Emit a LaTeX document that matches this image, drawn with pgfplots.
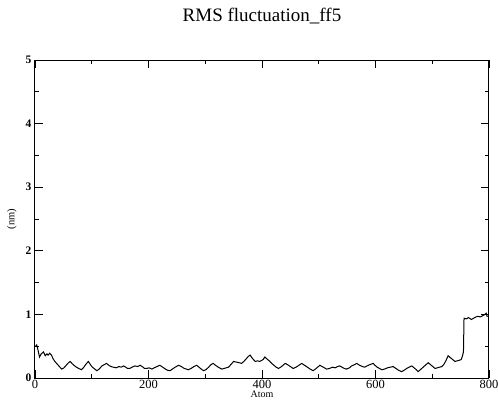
\documentclass[border=0pt]{standalone}
\usepackage{fontspec}
\setmainfont{Liberation Serif}
\usepackage{pgfplots}
\pgfplotsset{compat=1.18}
\begin{document}
\begin{tikzpicture}
\useasboundingbox (-35pt,-24pt) rectangle (463pt,378pt);
\begin{axis}[
  at={(0pt,0pt)}, anchor=south west,
  scale only axis, width=454pt, height=318pt,
  xmin=0, xmax=800, ymin=0, ymax=5,
  xtick={0,200,400,600,800}, minor x tick num=1,
  ytick={0,1,2,3,4,5}, minor y tick num=1,
  tick align=inside,
  major tick length=8pt, minor tick length=4pt,
  every tick/.style={black, line width=0.9pt},
  axis line style={line width=1pt},
  /pgf/number format/assume math mode=true,
  xticklabel style={font=\fontsize{12.5}{13}\selectfont, yshift=1pt},
  yticklabel style={font=\bfseries\fontsize{11.5}{12}\selectfont},
  title={RMS fluctuation\_ff5},
  title style={font=\fontsize{19}{21}\selectfont, at={(axis description cs:0.5,1)}, anchor=center, yshift=38pt},
  xlabel={Atom},
  xlabel style={font=\fontsize{10}{12}\selectfont, at={(axis description cs:0.5,0)}, anchor=south, yshift=-23.5pt},
  ylabel={(nm)},
  ylabel style={font=\fontsize{10.5}{12}\selectfont, at={(axis description cs:-0.051,0.5)}, anchor=center, rotate=0},
]
\addplot[black, line width=1pt, mark=none] coordinates {
(1,0.50)(3,0.52)(5,0.45)(8,0.33)(11,0.38)(15,0.41)(18,0.35)(21,0.38)(23,0.36)(26,0.39)
(29,0.36)(32,0.30)(35,0.26)(39,0.22)(43,0.18)(47,0.14)(51,0.16)(55,0.20)(59,0.24)(62,0.26)
(66,0.22)(70,0.19)(73,0.17)(77,0.15)(82,0.13)(86,0.17)(90,0.22)(94,0.26)(97,0.22)(100,0.18)
(104,0.15)(109,0.115)(113,0.14)(118,0.19)(122,0.21)(126,0.23)(130,0.20)(134,0.18)(138,0.17)(143,0.16)
(148,0.18)(152,0.17)(156,0.19)(160,0.17)(163,0.15)(167,0.15)(171,0.17)(176,0.19)(181,0.18)(185,0.20)
(189,0.18)(193,0.15)(197,0.15)(201,0.16)(206,0.14)(210,0.16)(215,0.18)(220,0.20)(225,0.17)(230,0.14)
(234,0.12)(238,0.115)(242,0.14)(247,0.17)(253,0.20)(258,0.18)(263,0.15)(267,0.14)(270,0.13)(275,0.15)
(280,0.18)(285,0.20)(289,0.17)(293,0.14)(297,0.115)(301,0.13)(306,0.17)(310,0.21)(314,0.23)(318,0.20)
(323,0.17)(329,0.14)(333,0.15)(337,0.16)(341,0.17)(346,0.22)(350,0.26)(355,0.25)(360,0.24)(364,0.23)
(368,0.26)(372,0.30)(376,0.34)(379,0.36)(383,0.31)(388,0.26)(392,0.27)(396,0.26)(402,0.29)(405,0.33)
(410,0.29)(414,0.26)(417,0.23)(421,0.20)(425,0.17)(429,0.15)(433,0.17)(437,0.20)(441,0.23)(445,0.21)
(450,0.18)(455,0.15)(460,0.17)(465,0.20)(470,0.23)(475,0.20)(480,0.17)(485,0.14)(490,0.115)(494,0.14)
(498,0.17)(502,0.20)(506,0.18)(510,0.16)(514,0.14)(519,0.15)(524,0.17)(529,0.16)(533,0.18)(537,0.19)
(541,0.17)(545,0.15)(549,0.14)(554,0.16)(558,0.19)(563,0.21)(567,0.23)(572,0.20)(577,0.18)(581,0.17)
(585,0.19)(590,0.21)(596,0.23)(599,0.20)(603,0.17)(607,0.15)(611,0.13)(616,0.14)(621,0.16)(626,0.17)
(631,0.18)(636,0.15)(641,0.12)(646,0.10)(650,0.12)(655,0.15)(659,0.17)(664,0.19)(668,0.16)(672,0.13)
(675,0.10)(679,0.13)(684,0.17)(689,0.21)(693,0.24)(697,0.21)(701,0.18)(705,0.15)(709,0.16)(713,0.17)
(717,0.18)(721,0.22)(725,0.29)(728,0.35)(732,0.32)(736,0.29)(740,0.26)(744,0.27)(748,0.28)(751,0.29)
(753,0.34)(755,0.41)(756,0.94)(760,0.93)(764,0.95)(769,0.92)(773,0.94)(777,0.96)(781,0.97)(785,0.96)
(789,0.98)(793,1.00)(795,1.02)(797,0.96)
};
\end{axis}
\end{tikzpicture}
\end{document}
